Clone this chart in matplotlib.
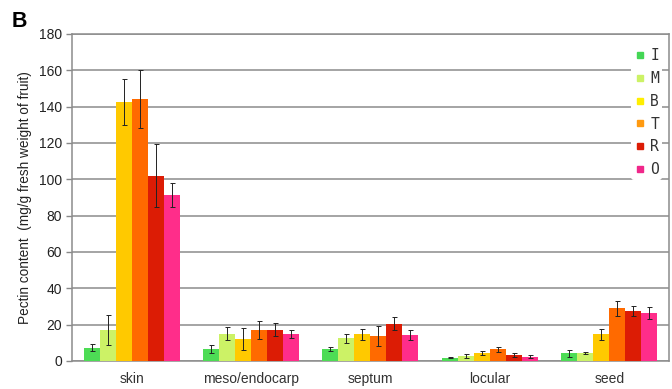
import matplotlib.pyplot as plt
import numpy as np

plt.rcParams['font.family'] = ['Liberation Sans', 'DejaVu Sans']

tissues = ['skin', 'meso/endocarp', 'septum', 'locular', 'seed']
stages = ['I', 'M', 'B', 'T', 'R', 'O']
colors = ['#4ddc55', '#ccf266', '#ffc900', '#ff6a00', '#dc1c05', '#ff2d8a']
legend_colors = ['#44d655', '#ccf266', '#ffee00', '#ff9a10', '#dc1c05', '#f0278a']

# pectin content per stage, one list per stage (skin, meso, septum, locular, seed)
pectin_I = [7.4, 6.6, 6.6, 1.8, 4.2]
pectin_M = [16.9, 15.0, 12.4, 2.7, 4.4]
pectin_B = [142.5, 12.0, 14.8, 4.4, 14.7]
pectin_T = [144.0, 17.0, 14.0, 6.4, 28.9]
pectin_R = [102.0, 17.2, 20.6, 3.3, 27.6]
pectin_O = [91.5, 14.8, 14.4, 2.4, 26.3]

err_I = [1.7, 2.3, 1.1, 0.4, 2.1]
err_M = [8.2, 3.5, 2.7, 0.9, 0.7]
err_B = [12.5, 6.0, 3.0, 1.3, 2.9]
err_T = [16.0, 5.0, 5.5, 1.2, 4.2]
err_R = [17.5, 3.5, 3.6, 0.9, 2.9]
err_O = [6.5, 2.4, 2.8, 0.8, 3.3]

values = [pectin_I, pectin_M, pectin_B, pectin_T, pectin_R, pectin_O]
errors = [err_I, err_M, err_B, err_T, err_R, err_O]

fig = plt.figure(figsize=(6.72, 3.89), dpi=100)
ax = fig.add_axes([0.107, 0.072, 0.8885, 0.8406])

x = np.arange(len(tissues))
w = 0.134
for i, (vals, errs) in enumerate(zip(values, errors)):
    pos = x + (i - 2.5) * w
    ax.bar(pos, vals, width=w, color=colors[i], zorder=3)
    ax.errorbar(pos, vals, yerr=errs, fmt='none', ecolor='#222222',
                elinewidth=0.7, capsize=1.8, capthick=0.7, zorder=4)

ax.set_xlim(-0.5, 4.5)
ax.set_ylim(0, 180)
ax.set_yticks(np.arange(0, 181, 20))
ax.set_xticks(x)
ax.set_xticklabels(tissues, fontsize=10, color='#333333')
ax.tick_params(axis='x', length=0, pad=8)
ax.tick_params(axis='y', length=4, width=1, color='#888888', labelsize=10,
               labelcolor='#222222', pad=3)
ax.grid(axis='y', color='#8c8c8c', linewidth=1.1, zorder=0)
for s in ax.spines.values():
    s.set_color('#8c8c8c')
    s.set_linewidth(1.1)

ax.set_ylabel('Pectin content  (mg/g fresh weight of fruit)', fontsize=9.8,
              color='#222222', labelpad=5)

handles = [plt.Line2D([], [], marker='s', linestyle='none', markersize=5,
                      markerfacecolor=c, markeredgecolor=c) for c in legend_colors]
leg = ax.legend(handles, stages, loc='upper right', bbox_to_anchor=(0.988, 0.965),
                frameon=True, framealpha=1, edgecolor='none', facecolor='white',
                handlelength=0.8, handletextpad=0.3, labelspacing=0.53,
                borderpad=0.2, borderaxespad=0,
                prop={'family': 'DejaVu Sans Mono', 'size': 10.5})
for t in leg.get_texts():
    t.set_color('#333333')

fig.text(0.018, 0.93, 'B', fontsize=15.5, fontweight='bold')

fig.savefig('out.png', dpi=100)
